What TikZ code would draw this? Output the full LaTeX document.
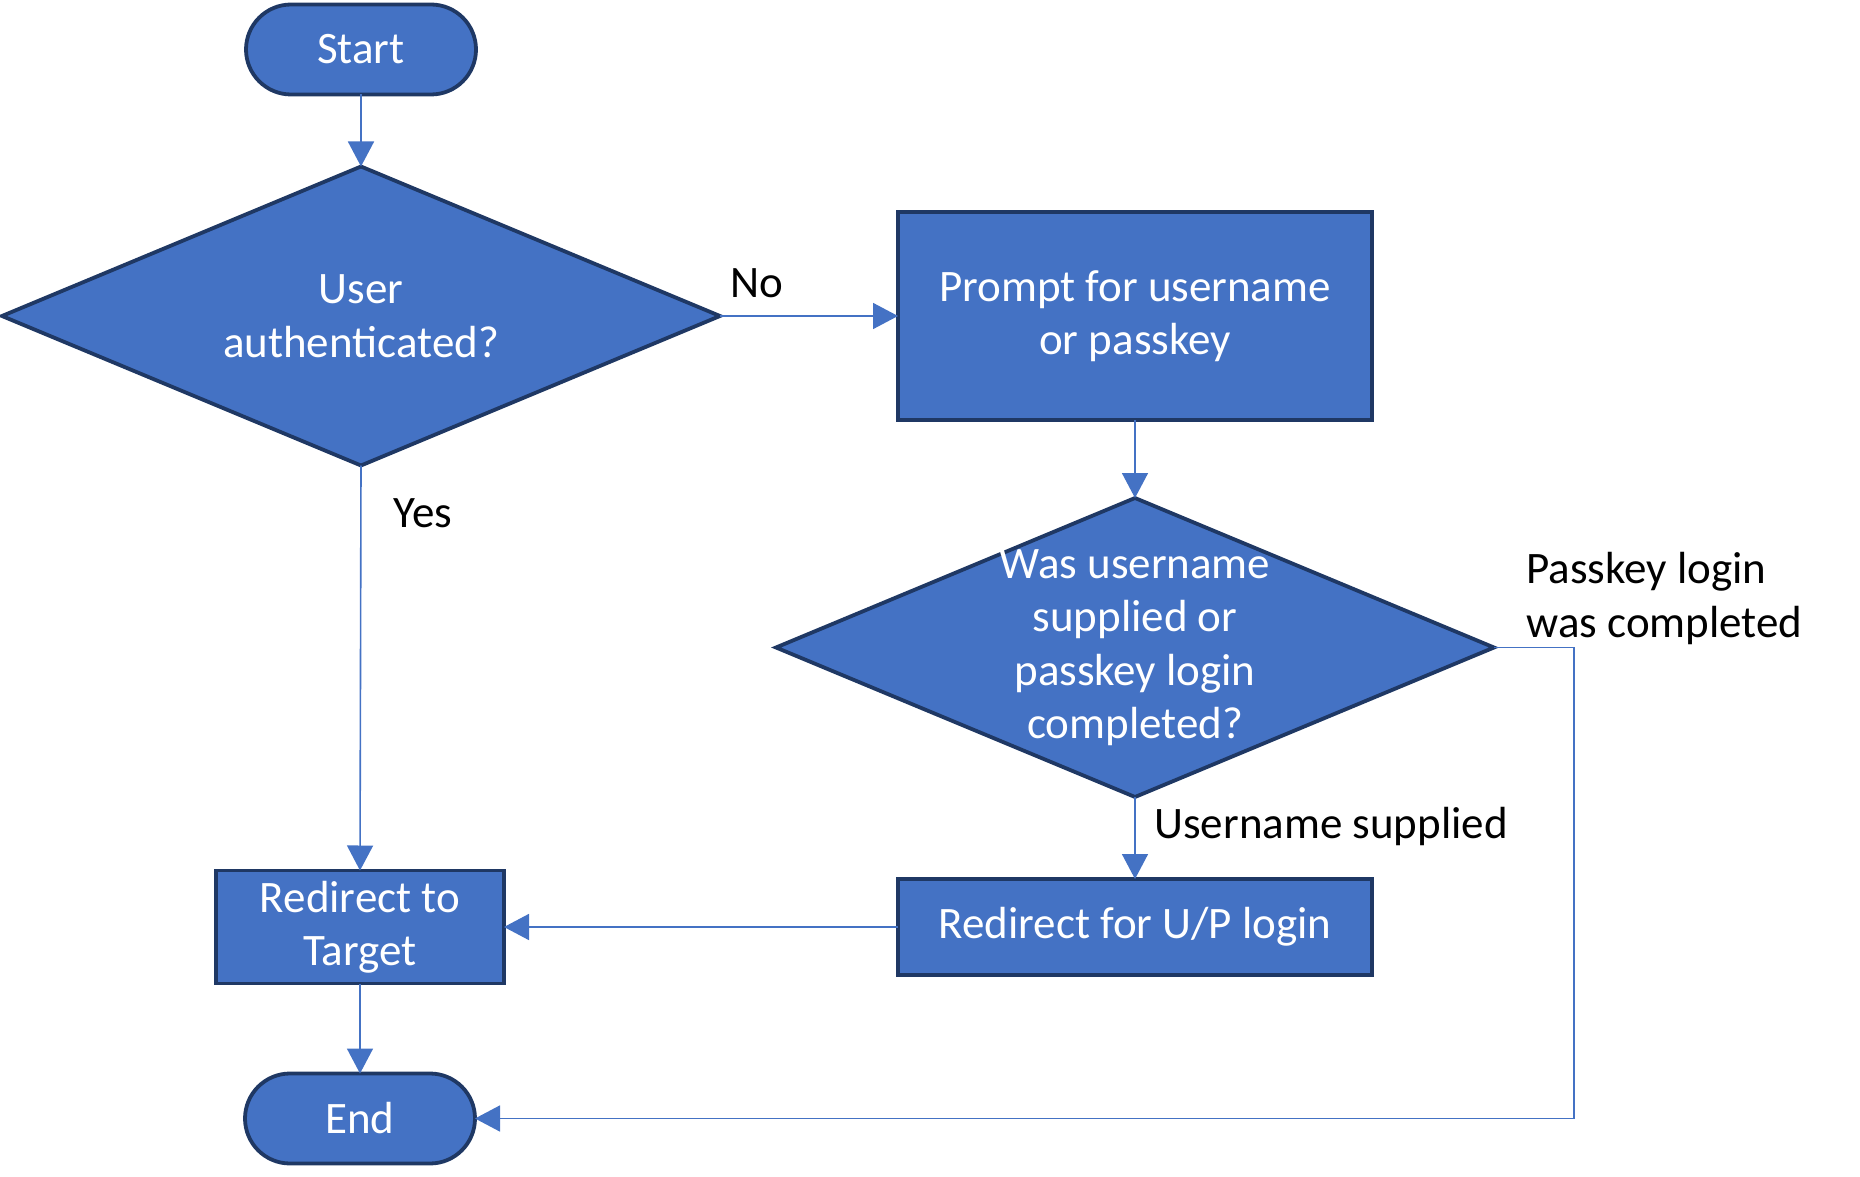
\documentclass[tikz,border=0pt]{standalone}
\usepackage{fontspec}
\setmainfont{Carlito}
\usepackage{tikz}
\usepackage{xcolor}
\usetikzlibrary{shapes,arrows.meta,positioning,shapes.geometric}
\definecolor{boxfill}{RGB}{68, 114, 196}
\definecolor{boxline}{RGB}{31, 56, 100}
\definecolor{linkline}{RGB}{68, 114, 196}
\tikzstyle{terminal} = [
    rectangle,
    rounded corners=22.5pt,
    minimum width=115pt,
    minimum height=45pt,
    align=center,
    draw=boxline,
    fill=boxfill,
    line width=1.9pt,
    outer sep=0pt,
    text=white
]
\tikzstyle{process} = [
    rectangle,
    minimum width=237pt,
    minimum height=104pt,
    align=center,
    draw=boxline,
    fill=boxfill,
    line width=1.9pt,
    outer sep=0pt,
    text=white
]
\tikzstyle{decision} = [
    diamond,
    shape aspect=2.4,
    minimum width=359pt,
    minimum height=149.5pt,
    inner sep=0pt,
    align=center,
    draw=boxline,
    fill=boxfill,
    line width=1.9pt,
    outer sep=0pt,
    text=white
]
\tikzstyle{arrow} = [
    line width=0.8pt,
    -{Triangle[width=13pt,length=12.5pt]},
    draw=linkline
]
\tikzstyle{note} = [
    inner sep=0pt,
    align=left,
    text=black
]

\begin{document}
\begin{tikzpicture}[
        x=0.5pt, y=-0.5pt,
        every node/.style={
            font=\fontsize{22.5}{26.75}\selectfont
        }
    ]
        \useasboundingbox (0,0) rectangle (1860,1177);

        \node[decision] (auth) at (361,316) {User\\authenticated?};
        \node[terminal, above=36pt of auth] (start) {Start};
        \node[process, right=89pt of auth] (prompt) {Prompt for username\\or passkey};
        \node[decision, below=39pt of prompt] (check) {};
        \node[align=center, text=white, inner sep=0pt] (checktext) at (check) {Was username\\supplied or\\passkey login\\completed?};
        \node[process, minimum height=48pt, below=41pt of check] (uplogin) {Redirect for U/P login};
        \node[process, minimum width=144pt, minimum height=56.5pt, left=197pt of uplogin] (target) {Redirect to\\Target};
        \node[terminal, below=45pt of target] (stop) {End};
        \coordinate[right=40pt of check.east] (bend);

        \draw[arrow] (start) -- (auth);
        \draw[arrow] (auth.east) -- (prompt.west);
        \draw[arrow] (auth.south) -- (target.north);
        \draw[arrow] (prompt.south) -- (check.north);
        \draw[arrow] (check.south) -- (uplogin.north);
        \draw[arrow] (uplogin.west) -- (target.east);
        \draw[arrow] (target.south) -- (stop.north);
        \draw[arrow] (check.east) -- (bend) |- (stop.east);

        \node[note, anchor=base west] (nolbl) at ([xshift=5pt, yshift=9pt]auth.east) {No};
        \node[note, anchor=base west] (yeslbl) at ([xshift=16pt, yshift=-30.75pt]auth.south) {Yes};
        \node[note, anchor=base west] (passlbl) at ([xshift=16pt, yshift=5.25pt]check.east) {Passkey login\\was completed};
        \node[note, anchor=base west] (userlbl) at ([xshift=9.5pt, yshift=-20.5pt]check.south) {Username supplied};
    \end{tikzpicture}
\end{document}
